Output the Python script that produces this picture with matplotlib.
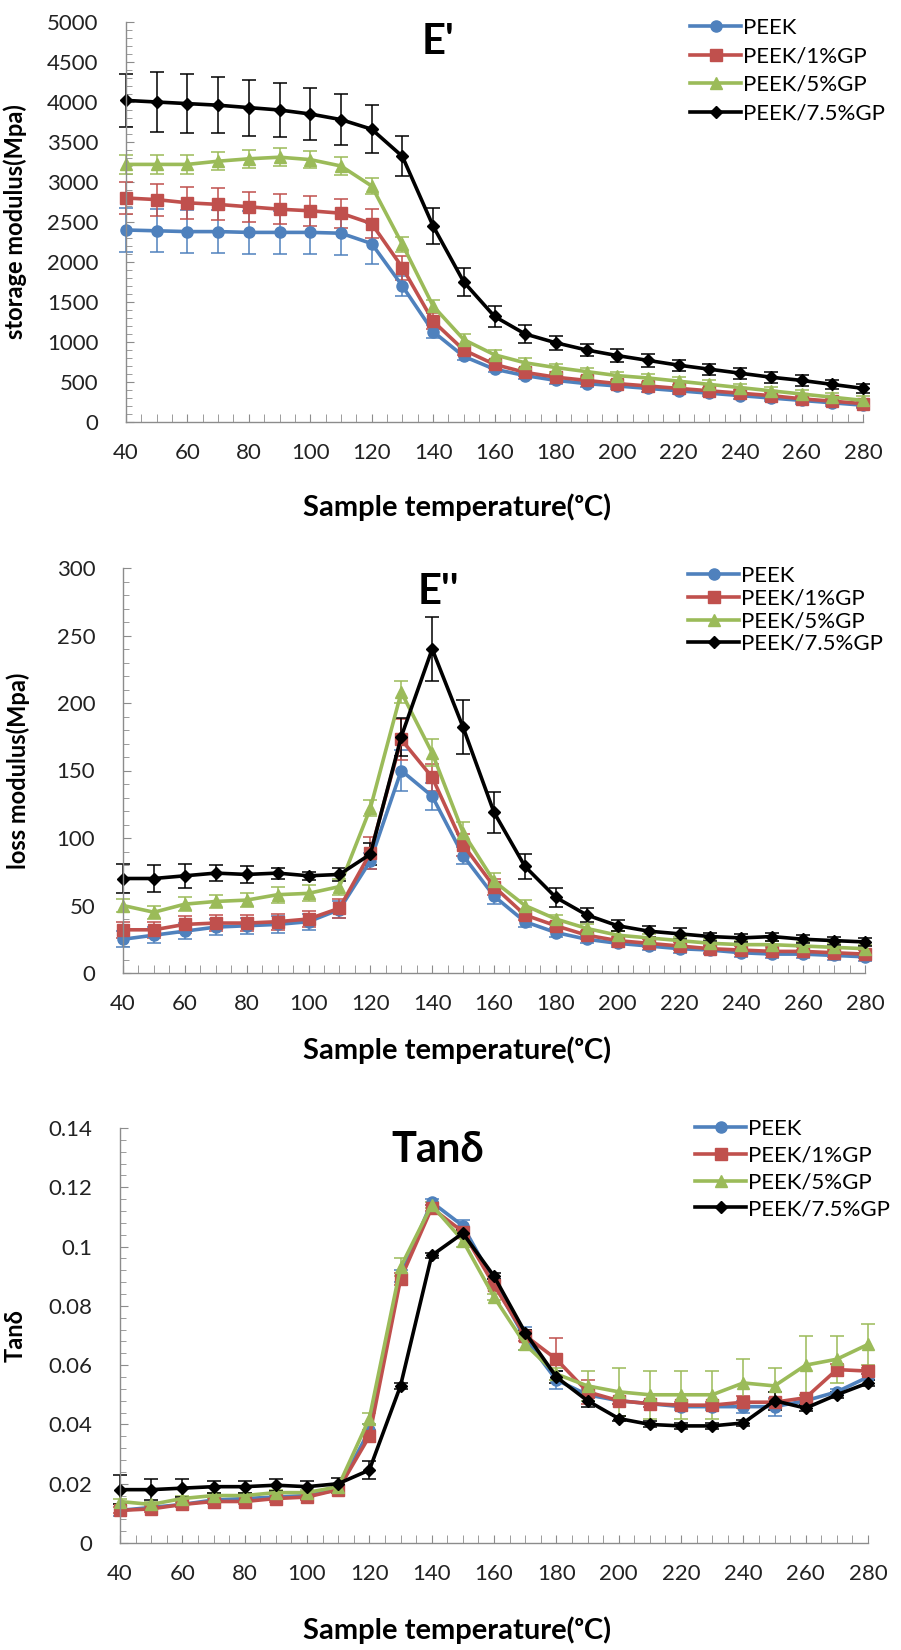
import matplotlib
matplotlib.use('Agg')
import matplotlib.pyplot as plt
from matplotlib.ticker import MultipleLocator

temp = [40, 50, 60, 70, 80, 90, 100, 110, 120, 130, 140, 150, 160,
        170, 180, 190, 200, 210, 220, 230, 240, 250, 260, 270, 280]
names = ["PEEK", "PEEK/1%GP", "PEEK/5%GP", "PEEK/7.5%GP"]

# storage modulus E' (MPa)
e1_peek = [2400, 2390, 2380, 2380, 2370, 2370, 2370, 2360, 2230, 1700, 1130, 820, 660,
           580, 520, 480, 450, 420, 390, 360, 330, 300, 270, 240, 210]
e1_gp1 = [2800, 2780, 2740, 2720, 2690, 2660, 2640, 2610, 2480, 1930, 1260, 900, 720,
          620, 560, 520, 480, 450, 420, 390, 360, 330, 290, 260, 230]
e1_gp5 = [3220, 3220, 3220, 3260, 3290, 3310, 3280, 3200, 2950, 2220, 1450, 1030, 840,
          740, 680, 630, 580, 550, 510, 470, 430, 390, 350, 310, 270]
e1_gp75 = [4020, 4000, 3980, 3960, 3930, 3900, 3850, 3780, 3660, 3320, 2450, 1750, 1320,
           1100, 990, 900, 830, 770, 710, 660, 610, 560, 520, 470, 420]
e1_peek_err = [270, 270, 270, 270, 270, 270, 270, 270, 260, 120, 80, 50, 40,
               40, 40, 40, 40, 40, 40, 40, 40, 40, 40, 40, 40]
e1_gp1_err = [200, 200, 200, 200, 190, 190, 190, 180, 180, 150, 100, 60, 50,
              40, 40, 40, 40, 40, 40, 40, 40, 40, 40, 40, 40]
e1_gp5_err = [120, 120, 120, 110, 110, 110, 110, 110, 100, 90, 80, 70, 60,
              60, 50, 50, 50, 50, 50, 50, 50, 50, 50, 50, 50]
e1_gp75_err = [330, 370, 370, 350, 350, 340, 330, 320, 300, 250, 230, 170, 130,
               110, 90, 80, 80, 80, 70, 70, 70, 70, 70, 60, 60]

# loss modulus E'' (MPa)
e2_peek = [25, 28, 31, 34, 35, 36, 38, 47, 83, 150, 131, 87, 57,
           38, 30, 25, 22, 20, 18, 17, 15, 14, 14, 13, 12]
e2_gp1 = [32, 32, 36, 37, 37, 38, 40, 48, 89, 173, 145, 95, 64,
          43, 35, 28, 24, 22, 20, 18, 17, 16, 16, 15, 14]
e2_gp5 = [50, 45, 51, 53, 54, 58, 59, 64, 122, 208, 163, 104, 68,
          50, 40, 33, 28, 26, 24, 22, 21, 21, 20, 19, 18]
e2_gp75 = [70, 70, 72, 74, 73, 74, 72, 73, 88, 175, 240, 182, 119,
           79, 56, 43, 35, 31, 29, 27, 26, 27, 25, 24, 23]
e2_peek_err = [6, 6, 6, 6, 6, 6, 6, 6, 6, 15, 10, 6, 6,
               4, 3, 3, 3, 3, 3, 3, 3, 3, 3, 3, 3]
e2_gp1_err = [6, 6, 6, 6, 6, 6, 6, 7, 12, 15, 10, 8, 6,
              4, 3, 3, 3, 3, 3, 3, 3, 3, 3, 3, 3]
e2_gp5_err = [5, 5, 5, 5, 5, 6, 6, 6, 6, 8, 10, 8, 6,
              4, 3, 3, 3, 3, 3, 3, 3, 3, 3, 3, 3]
e2_gp75_err = [11, 10, 9, 6, 6, 4, 3, 5, 8, 14, 24, 20, 15,
               9, 7, 5, 4, 4, 4, 3, 3, 3, 3, 3, 3]

# tan delta
td_peek = [0.011, 0.012, 0.013, 0.0145, 0.015, 0.0155, 0.016, 0.018, 0.038, 0.090, 0.115, 0.107, 0.088,
           0.069, 0.055, 0.050, 0.048, 0.047, 0.046, 0.046, 0.046, 0.046, 0.048, 0.051, 0.056]
td_gp1 = [0.011, 0.0115, 0.013, 0.014, 0.014, 0.015, 0.0155, 0.018, 0.036, 0.089, 0.113, 0.105, 0.087,
          0.070, 0.062, 0.051, 0.048, 0.047, 0.0465, 0.0465, 0.0475, 0.0475, 0.049, 0.0585, 0.058]
td_gp5 = [0.014, 0.013, 0.015, 0.016, 0.016, 0.017, 0.017, 0.019, 0.042, 0.093, 0.114, 0.102, 0.083,
          0.067, 0.057, 0.053, 0.051, 0.050, 0.050, 0.050, 0.054, 0.053, 0.060, 0.062, 0.067]
td_gp75 = [0.018, 0.018, 0.0185, 0.019, 0.019, 0.0195, 0.019, 0.020, 0.0246, 0.053, 0.097, 0.1045, 0.090,
           0.071, 0.056, 0.048, 0.042, 0.040, 0.0395, 0.0395, 0.0405, 0.048, 0.0455, 0.050, 0.054]
td_peek_err = [0.002, 0.001, 0.001, 0.001, 0.001, 0.001, 0.001, 0.001, 0.002, 0.002, 0.001, 0.002, 0.001,
               0.004, 0.003, 0.002, 0.001, 0.001, 0.001, 0.001, 0.002, 0.003, 0.001, 0.001, 0.001]
td_gp1_err = [0.001, 0.001, 0.001, 0.001, 0.001, 0.001, 0.001, 0.001, 0.002, 0.002, 0.001, 0.001, 0.001,
              0.002, 0.007, 0.004, 0.001, 0.001, 0.001, 0.001, 0.002, 0.001, 0.001, 0.002, 0.001]
td_gp5_err = [0.001, 0.001, 0.001, 0.001, 0.001, 0.001, 0.001, 0.001, 0.002, 0.003, 0.001, 0.002, 0.001,
              0.002, 0.002, 0.005, 0.008, 0.008, 0.008, 0.008, 0.008, 0.006, 0.010, 0.008, 0.007]
td_gp75_err = [0.005, 0.0035, 0.003, 0.002, 0.002, 0.002, 0.002, 0.002, 0.003, 0.001, 0.001, 0.001, 0.001,
               0.001, 0.002, 0.002, 0.001, 0.001, 0.001, 0.001, 0.001, 0.003, 0.001, 0.001, 0.001]

colors = ["#4F81BD", "#C0504D", "#9BBB59", "#000000"]
markers = ["o", "s", "^", "D"]
msizes = [8, 8, 8, 6]

plt.rcParams["font.family"] = ["Lato", "DejaVu Sans"]

fig = plt.figure(figsize=(9.01, 16.5), dpi=100)


def panel(rect, ys, errs, ymax, ymajor, yminor, yfmt, ylabel, title, title_xy, leg_xy, leg_space, xlab_y):
    ax = fig.add_axes(rect)
    lines = []
    for y, e, c, m, ms, n in zip(ys, errs, colors, markers, msizes, names):
        cont = ax.errorbar(temp, y, yerr=e, color=c, ecolor=c, elinewidth=1.1, capsize=5, capthick=1.1,
                           marker=m, markersize=ms, linewidth=2.6, label=n)
        lines.append(cont[0])
    ax.set_xlim(40, 280)
    ax.set_ylim(0, ymax)
    ax.xaxis.set_major_locator(MultipleLocator(20))
    ax.xaxis.set_minor_locator(MultipleLocator(5))
    ax.yaxis.set_major_locator(MultipleLocator(ymajor))
    ax.yaxis.set_minor_locator(MultipleLocator(yminor))
    ax.yaxis.set_major_formatter(yfmt)
    for s in ["top", "right"]:
        ax.spines[s].set_visible(False)
    for s in ["left", "bottom"]:
        ax.spines[s].set_color("#8c8c8c")
        ax.spines[s].set_linewidth(1.0)
    ax.tick_params(which="both", direction="in", color="#8c8c8c", labelsize=16, labelcolor="#222222")
    ax.tick_params(axis="y", which="major", length=6, pad=20)
    ax.tick_params(axis="y", which="minor", length=4)
    ax.tick_params(axis="x", which="major", length=6, pad=15)
    ax.tick_params(axis="x", which="minor", length=6)
    for art in ax.get_children():
        try:
            art.set_clip_on(False)
        except Exception:
            pass
    # x label centred a little left of the axes middle, as in the original
    fig.text(457 / 901, 1 - xlab_y / 1650, "Sample temperature(\u1d52C)", fontsize=21, fontweight="bold",
             ha="center", va="center")
    ax.set_ylabel(ylabel, fontsize=17, fontweight="bold")
    fig.text(title_xy[0], title_xy[1], title, fontsize=30, fontweight="bold", ha="center", va="center")
    fig.legend(lines, names, loc="upper left", bbox_to_anchor=leg_xy,
               frameon=False, fontsize=16, handlelength=2.3, handletextpad=0.1,
               labelspacing=leg_space, borderpad=0, borderaxespad=0)
    return ax


def fmt_int(v, pos):
    return "%d" % v


def fmt_td(v, pos):
    return ("%.2f" % v).rstrip("0").rstrip(".") if v != 0 else "0"


ax1 = panel([126 / 901, 1 - 422 / 1650, (863 - 126) / 901, 400 / 1650],
            [e1_peek, e1_gp1, e1_gp5, e1_gp75],
            [e1_peek_err, e1_gp1_err, e1_gp5_err, e1_gp75_err],
            5000, 500, 100, fmt_int, "storage modulus(Mpa)", "E'",
            (438 / 901, 1 - 42 / 1650), (690 / 901, 1 - 18 / 1650), 0.38, 507)
ax1.yaxis.set_label_coords(-0.135, 0.5)

ax2 = panel([123 / 901, 1 - 973 / 1650, (865 - 123) / 901, 405 / 1650],
            [e2_peek, e2_gp1, e2_gp5, e2_gp75],
            [e2_peek_err, e2_gp1_err, e2_gp5_err, e2_gp75_err],
            300, 50, 10, fmt_int, "loss modulus(Mpa)", "E''",
            (438 / 901, 1 - 592 / 1650), (688 / 901, 1 - 566 / 1650), 0.12, 1050)
ax2.yaxis.set_label_coords(-0.125, 0.5)

ax3 = panel([120 / 901, 1 - 1543 / 1650, (868 - 120) / 901, 415 / 1650],
            [td_peek, td_gp1, td_gp5, td_gp75],
            [td_peek_err, td_gp1_err, td_gp5_err, td_gp75_err],
            0.14, 0.02, 0.004, fmt_td, "Tan\u03b4", "Tan\u03b4",
            (438 / 901, 1 - 1150 / 1650), (695 / 901, 1 - 1119 / 1650), 0.3, 1630)
ax3.yaxis.set_label_coords(-0.125, 0.5)

fig.savefig("out.png", dpi=100, facecolor="white")
